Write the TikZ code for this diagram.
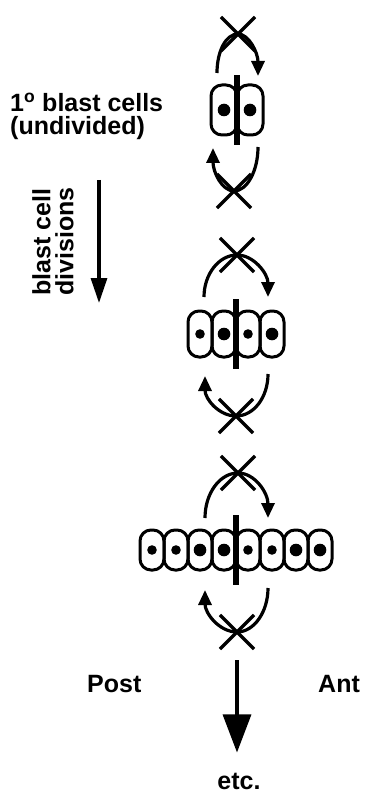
\documentclass[tikz,border=0pt]{standalone}
\usepackage{fontspec}
\setmainfont{Liberation Sans}
\usetikzlibrary{positioning, calc}
\usetikzlibrary{shapes,arrows.meta}
\tikzstyle{cell} = [rectangle, draw, line width=3pt, rounded corners=11pt,
    minimum width=24pt, inner sep=0pt, outer sep=0pt]
\tikzstyle{cellbig} = [cell, path picture={\fill (path picture bounding box.center) circle (6.3pt);}]
\tikzstyle{cellsmall} = [cell, path picture={\fill (path picture bounding box.center) circle (4.8pt);}]
\tikzstyle{divbar} = [rectangle, fill=black, minimum width=6.5pt, minimum height=70pt, inner sep=0pt]
\tikzstyle{xmark} = [cross out, draw, line width=3.2pt, minimum width=31pt,
    minimum height=31pt, inner sep=0pt]
\tikzstyle{arcline} = [draw, line width=3.2pt, -{Triangle[length=15pt,width=13pt]}]
\tikzstyle{txt} = [font=\fontsize{25}{23}\selectfont\bfseries, inner sep=0pt, align=left]

\begin{document}
\begin{tikzpicture}[x=1pt, y=-1pt]
  \useasboundingbox (0,0) rectangle (364,794);
   % Place nodes
    \node [txt, anchor=north west] (title) at (10,93) {1\textsuperscript{o} blast cells\\(undivided)};
    \node [txt, rotate=90, anchor=north west] (divs) at (32,296) {blast cell\\divisions};
    \node [txt, anchor=base west] (post) at (87,692) {Post};
    \node [txt, anchor=base west] (ant) at (318,692) {Ant};
    \node [txt, anchor=base] (etc) at (239,789) {etc.};
   % undivided blast cells
    \node [cellbig, minimum width=26pt, minimum height=50pt] (c11) at (224,110) {};
    \node [cellbig, minimum width=26pt, minimum height=50pt, right=0pt of c11] (c12) {};
    \node [divbar] (bar1) at (c11.east) {};
    \node [xmark] (x1t) at (238,34) {};
    \node [xmark] (x1b) at (234,191) {};
    \coordinate (t1a) at (217,73);
    \coordinate (t1b) at (258,76);
    \coordinate (b1a) at (258,147);
    \coordinate (b1b) at (213,148);
   % first division
    \node [cellsmall, minimum height=46pt] (c21) at (200,334) {};
    \node [cellbig, minimum height=46pt, right=0pt of c21] (c22) {};
    \node [cellsmall, minimum height=46pt, right=0pt of c22] (c23) {};
    \node [cellbig, minimum height=46pt, right=0pt of c23] (c24) {};
    \node [divbar] (bar2) at (c22.east) {};
    \node [xmark] (x2t) at (237,255) {};
    \node [xmark] (x2b) at (236,416) {};
    \coordinate (t2a) at (204,297);
    \coordinate (t2b) at (268,297);
    \coordinate (b2a) at (268,374);
    \coordinate (b2b) at (205,376);
   % second division
    \node [cellsmall, minimum height=40pt] (c31) at (152,550) {};
    \node [cellsmall, minimum height=40pt, right=0pt of c31] (c32) {};
    \node [cellbig, minimum height=40pt, right=0pt of c32] (c33) {};
    \node [cellbig, minimum height=40pt, right=0pt of c33] (c34) {};
    \node [cellsmall, minimum height=40pt, right=0pt of c34] (c35) {};
    \node [cellsmall, minimum height=40pt, right=0pt of c35] (c36) {};
    \node [cellbig, minimum height=40pt, right=0pt of c36] (c37) {};
    \node [cellbig, minimum height=40pt, right=0pt of c37] (c38) {};
    \node [divbar] (bar3) at (c34.east) {};
    \node [xmark] (x3t) at (238,473) {};
    \node [xmark] (x3b) at (237,632) {};
    \coordinate (t3a) at (205,518);
    \coordinate (t3b) at (268,518);
    \coordinate (b3a) at (268,588);
    \coordinate (b3b) at (205,590);
    \coordinate (d1) at (99,180);
    \coordinate (d2) at (99,303);
   % Draw edges
    \draw [arcline] (t1a) .. controls +(0,-22) and +(-12,0) .. (x1t.center) .. controls +(11,0) and +(0,-23) .. (t1b);
    \draw [arcline] (b1a) .. controls +(0,24) and +(13,0) .. (x1b.center) .. controls +(-12,0) and +(0,24) .. (b1b);
    \draw [arcline] (t2a) .. controls +(0,-23) and +(-18,0) .. (x2t.center) .. controls +(17,0) and +(0,-23) .. (t2b);
    \draw [arcline] (b2a) .. controls +(0,23) and +(18,0) .. (x2b.center) .. controls +(-17,0) and +(0,23) .. (b2b);
    \draw [arcline] (t3a) .. controls +(0,-25) and +(-18,0) .. (x3t.center) .. controls +(17,0) and +(0,-25) .. (t3b);
    \draw [arcline] (b3a) .. controls +(0,24) and +(17,0) .. (x3b.center) .. controls +(-18,0) and +(0,23) .. (b3b);
    \draw [line width=3.2pt, -{Triangle[length=25pt,width=16pt]}] (d1) -- (d2);
    \draw [line width=3.2pt, -{Triangle[length=38pt,width=28pt]}, shorten <=11pt, shorten >=20pt]
      (x3b.south) -- (x3b.south |- etc.north);
\end{tikzpicture}
\end{document}
